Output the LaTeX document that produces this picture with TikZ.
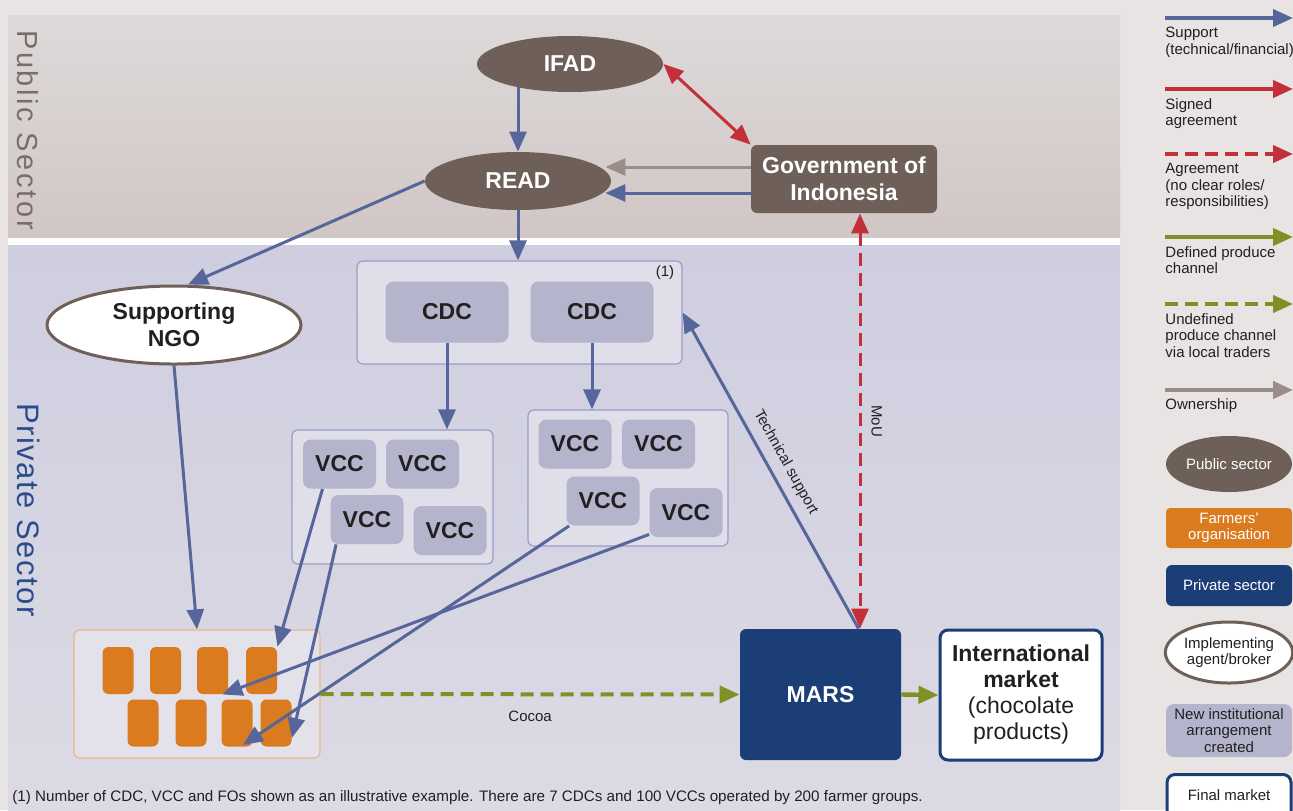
\documentclass[tikz,border=0pt]{standalone}
\usepackage{fontspec}
\setmainfont{Liberation Sans}
\usetikzlibrary{arrows.meta,shapes.geometric,positioning}

\definecolor{pagebg}{HTML}{E8E4E3}
\definecolor{pubtop}{HTML}{DDDAD9}
\definecolor{pubbot}{HTML}{D1C6C6}
\definecolor{privtop}{HTML}{CFCEE0}
\definecolor{privmid}{HTML}{D4D6DF}
\definecolor{privbot}{HTML}{DCDAE4}
\definecolor{pubbrown}{HTML}{6E6058}
\definecolor{pubtext}{HTML}{7A6D67}
\definecolor{privtext}{HTML}{2B4C8C}
\definecolor{supblue}{HTML}{56659A}
\definecolor{agred}{HTML}{C4303A}
\definecolor{prodgreen}{HTML}{7F9125}
\definecolor{owngrey}{HTML}{9A8C86}
\definecolor{foorange}{HTML}{DA7B1F}
\definecolor{privnavy}{HTML}{1C3E77}
\definecolor{newlav}{HTML}{B4B4CD}
\definecolor{grpfill}{HTML}{DFDEE9}
\definecolor{grpline}{HTML}{9A9CC6}
\definecolor{fofill}{HTML}{E3E1EA}
\definecolor{foline}{HTML}{E8B88C}
\definecolor{ink}{HTML}{231F20}

\newcommand{\bigfont}{\fontsize{11.5}{13.5}\selectfont\bfseries}
\newcommand{\smallfont}{\fontsize{7.5}{8.2}\selectfont}

\tikzset{
  pubell/.style={ellipse, fill=pubbrown, text=white, font=\bigfont, inner sep=0pt},
  pubbox/.style={rectangle, rounded corners=3pt, fill=pubbrown, text=white, font=\bigfont, align=center, inner sep=0pt},
  brokerell/.style={ellipse, fill=white, draw=pubbrown, line width=1.5pt, text=ink, font=\bigfont, align=center, inner sep=0pt},
  grp/.style={rectangle, rounded corners=3pt, fill=grpfill, draw=grpline, line width=0.6pt},
  newbox/.style={rectangle, rounded corners=4pt, fill=newlav, text=ink, font=\bigfont, inner sep=0pt},
  cdcbox/.style={newbox, minimum width=61.5pt, minimum height=30.5pt},
  vccbox/.style={newbox, minimum width=36.5pt, minimum height=24.5pt},
  fobox/.style={rectangle, rounded corners=3pt, fill=foorange, minimum width=15.5pt, minimum height=23.5pt, inner sep=0pt},
  privbox/.style={rectangle, rounded corners=3pt, fill=privnavy, text=white, font=\bigfont, inner sep=0pt},
  finbox/.style={rectangle, rounded corners=4pt, fill=white, draw=privnavy, line width=1.5pt, text=ink, align=center, inner sep=0pt},
  legtext/.style={anchor=north west, align=left, font=\smallfont, text=ink, inner sep=0pt},
  headtip/.style={-{Triangle[length=10pt,width=8.5pt]}},
  supportline/.style={draw=supblue, line width=1.5pt, headtip},
  signedline/.style={draw=agred, line width=1.5pt, headtip},
  agreeline/.style={draw=agred, line width=1.5pt, dash pattern=on 6.5pt off 3.5pt, headtip},
  defline/.style={draw=prodgreen, line width=2.2pt, headtip},
  undefline/.style={draw=prodgreen, line width=2pt, dash pattern=on 6.5pt off 3.5pt, headtip},
  ownline/.style={draw=owngrey, line width=1.5pt, headtip},
  legline/.style={line width=2pt}
}

\begin{document}
\begin{tikzpicture}[x=0.5pt, y=-0.5pt]
  \useasboundingbox (0,0) rectangle (1293,810);
  % background bands
  \fill[pagebg] (0,0) rectangle (1293,810);
  \shade[top color=pubtop, bottom color=pubbot] (8,15) rectangle (1120,238);
  \fill[white] (8,238) rectangle (1120,245);
  \shade[top color=privtop, middle color=privmid, bottom color=privbot] (8,245) rectangle (1120,810);
  \node[rotate=-90, font=\fontsize{14.5}{16}\selectfont\addfontfeatures{LetterSpace=9}, text=pubtext] (pubsec) at (28,130) {Public Sector};
  \node[rotate=-90, font=\fontsize{15.5}{17}\selectfont\addfontfeatures{LetterSpace=5}, text=privtext] (privsec) at (29,510) {Private Sector};

  % public sector
  \node[pubell, minimum width=93pt, minimum height=28pt] (ifad) at (570,64) {IFAD};
  \node[pubell, minimum width=93pt, minimum height=29pt] (read) at (518,181) {READ};
  \node[pubbox, minimum width=93pt, minimum height=34pt] (gov) at (844,179) {Government of\\Indonesia};

  % private sector
  \node[brokerell, minimum width=127pt, minimum height=39pt] (ngo) at (174,325) {Supporting\\NGO};
  \node[grp, minimum width=162.5pt, minimum height=51.5pt] (cdcgrp) at (519.5,312.5) {};
  \node[anchor=north east, font=\smallfont, text=ink, inner sep=0pt] (note) at ([xshift=-4pt,yshift=-2.5pt]cdcgrp.north east) {(1)};
  \node[cdcbox] (cdc1) at (447,312) {CDC};
  \node[cdcbox] (cdc2) at (592,312) {CDC};

  \node[grp, minimum width=100.5pt, minimum height=67pt] (vgrp1) at (392.5,497) {};
  \node[vccbox] (v11) at (339.5,464) {VCC};
  \node[vccbox] (v12) at (422.5,464) {VCC};
  \node[vccbox] (v13) at (367,519.5) {VCC};
  \node[vccbox] (v14) at (450,530.5) {VCC};

  \node[grp, minimum width=100pt, minimum height=68pt] (vgrp2) at (628,478) {};
  \node[vccbox] (v21) at (575,444) {VCC};
  \node[vccbox] (v22) at (658.5,444) {VCC};
  \node[vccbox] (v23) at (603,501) {VCC};
  \node[vccbox] (v24) at (686,512.5) {VCC};

  \node[rectangle, rounded corners=3pt, fill=fofill, draw=foline, line width=0.6pt,
        minimum width=123pt, minimum height=64pt] (fogrp) at (197,694) {};
  \foreach \x [count=\i] in {118,165.5,212.5,261.5}
    \node[fobox] (fo\i) at (\x,670.5) {};
  \foreach \x [count=\i] in {143,191,237,276}
    \node[fobox] (fb\i) at (\x,723) {};

  \node[privbox, minimum width=80.5pt, minimum height=65.5pt] (mars) at (820.5,694.5) {MARS};
  \node[finbox, minimum width=81pt, minimum height=65pt, font=\fontsize{11.5}{13}\selectfont] (intl) at (1021,695)
    {\textbf{International}\\\textbf{market}\\(chocolate\\products)};

  % connectors
  \draw[supportline] (ifad.204 -| read.north) -- (read.north);
  \draw[signedline, {Triangle[length=10pt,width=8.5pt]}-{Triangle[length=10pt,width=8.5pt]}] (ifad.east) -- (gov.north west);
  \draw[ownline] ([yshift=6pt]gov.west) -- ([yshift=6pt,xshift=-3pt]gov.west -| read.east);
  \draw[supportline] ([yshift=-7pt]gov.west) -- ([yshift=-7pt,xshift=-3pt]gov.west -| read.east);
  \draw[supportline] (read.south) -- (read.south |- cdcgrp.north);
  \draw[supportline] (read.west) -- ([xshift=7pt]ngo.north);
  \draw[supportline] (cdc1.south) -- (cdc1.south |- vgrp1.north);
  \draw[supportline] (cdc2.south) -- (cdc2.south |- vgrp2.north);
  \draw[supportline] (ngo.south) -- (fogrp.north);
  \draw[supportline] ([xshift=-8.5pt]v11.south) -- (fo4.north east);
  \draw[supportline] ([xshift=3pt]v13.south west) -- ([yshift=4.5pt]fb4.south east);
  \draw[supportline] ([xshift=1.5pt]v23.south west) -- ([xshift=3pt,yshift=1pt]fb3.south);
  \draw[supportline] ([yshift=1.5pt]v24.south west) -- ([xshift=-3pt]fo3.south east);
  \draw[supportline] ([xshift=19pt]mars.north) -- (cdcgrp.east)
    node[pos=0.5, sloped, above=1pt, font=\smallfont, text=ink] {Technical support};
  \draw[agreeline, {Triangle[length=10pt,width=8.5pt]}-{Triangle[length=10pt,width=8.5pt]}]
    ([xshift=8pt]gov.south) -- ([xshift=8pt]gov.south |- mars.north)
    node[pos=0.5, rotate=-90, anchor=south, inner sep=5pt, font=\smallfont, text=ink] {MoU};
  \draw[undefline] (fogrp.east) -- (mars.west)
    node[pos=0.5, below=4pt, font=\smallfont, text=ink] {Cocoa};
  \draw[defline] (mars.east) -- (intl.west);

  \node[anchor=west, font=\fontsize{7.6}{9}\selectfont, text=ink, inner sep=0pt] (foot) at (12,798)
    {(1) Number of CDC, VCC and FOs shown as an illustrative example. There are 7 CDCs and 100 VCCs operated by 200 farmer groups.};

  % legend
  \foreach \y/\sty [count=\i] in {18/supportline,89/signedline,154/agreeline,237/defline,304/undefline,390/ownline}{
    \coordinate (ls\i) at (1165,\y);
    \coordinate (le\i) at (1293,\y);
    \draw[\sty, legline] (ls\i) -- (le\i);
  }
  \node[legtext] (lt1) at (1165,27) {Support\\(technical/financial)};
  \node[legtext] (lt2) at (1165,98) {Signed\\agreement};
  \node[legtext] (lt3) at (1165,163) {Agreement\\(no clear roles/\\responsibilities)};
  \node[legtext] (lt4) at (1165,246) {Defined produce\\channel};
  \node[legtext] (lt5) at (1165,313) {Undefined\\produce channel\\via local traders};
  \node[legtext] (lt6) at (1165,398) {Ownership};

  \node[pubell, minimum width=63pt, minimum height=28pt, font=\smallfont] (lpub) at (1229,464) {Public sector};
  \node[rectangle, rounded corners=2pt, fill=foorange, text=white, align=center, font=\smallfont,
        minimum width=63pt, minimum height=20pt, inner sep=0pt] (lfo) at (1229,528) {Farmers'\\organisation};
  \node[privbox, minimum width=63pt, minimum height=20.5pt, font=\smallfont] (lpriv) at (1229,585.5) {Private sector};
  \node[brokerell, minimum width=63pt, minimum height=30.5pt, font=\smallfont] (lbroker) at (1229,652.5) {Implementing\\agent/broker};
  \node[newbox, align=center, minimum width=63pt, minimum height=26.5pt, font=\smallfont] (lnew) at (1229,730.5) {New institutional\\arrangement\\created};
  \node[finbox, anchor=north, minimum width=62pt, minimum height=40pt] (lfin) at (1229,773) {};
  \node[font=\smallfont, text=ink] (lfintext) at ([yshift=-11pt]lfin.north) {Final market};
\end{tikzpicture}
\end{document}
